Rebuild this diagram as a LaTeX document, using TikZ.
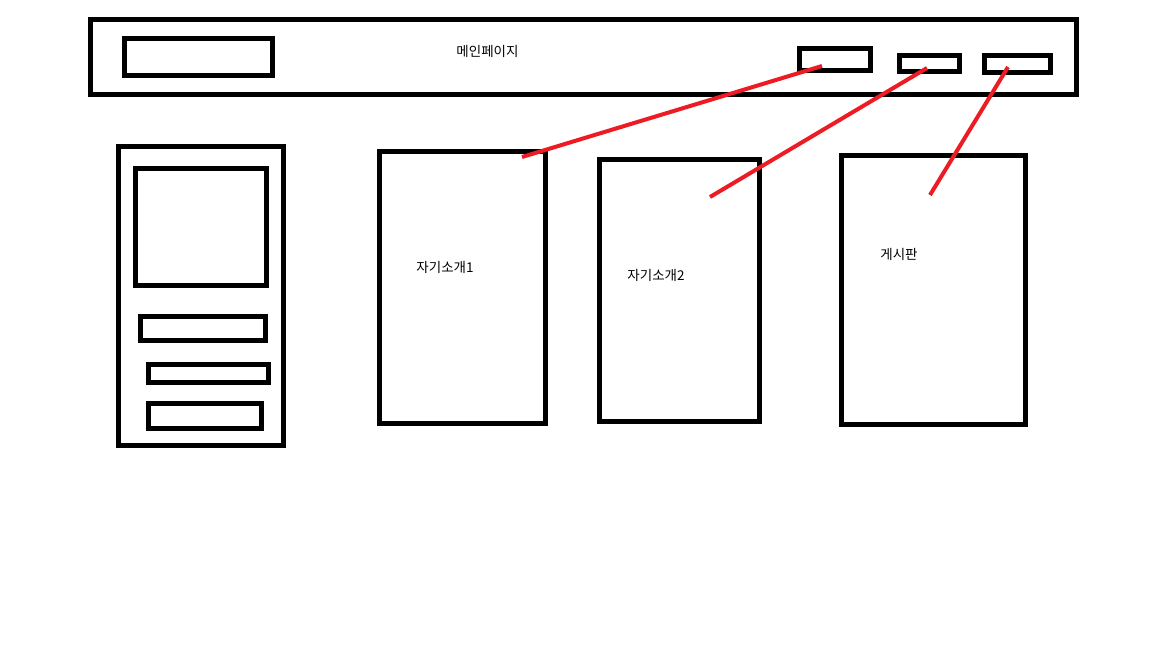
\documentclass[tikz,border=0pt]{standalone}
\usepackage{fontspec}
\newfontfamily\kr{Noto Sans CJK KR}
\definecolor{linkred}{RGB}{237,28,36}
\begin{document}
\begin{tikzpicture}[x=1pt,y=-1pt,
  box/.style={draw=black,line width=5pt,inner sep=0pt,outer sep=0pt,fill=none},
  lbl/.style={font=\kr\fontsize{13.5}{15}\selectfont,inner sep=0pt,text=black},
  link/.style={draw=linkred,line width=4pt}]
\useasboundingbox[fill=white] (0,0) rectangle (1152,648);
% top bar
\node[box,minimum width=986pt,minimum height=75pt] (bar) at (583.5,57) {};
\node[box,minimum width=148pt,minimum height=37pt] (logo) at (198.5,57) {};
\node[box,minimum width=71pt,minimum height=22pt] (btn1) at (835,59.5) {};
\node[box,minimum width=60pt,minimum height=16pt] (btn2) at (929.5,63.5) {};
\node[box,minimum width=66pt,minimum height=17pt] (btn3) at (1017.5,64) {};
\node[lbl] (title) at (487.5,51) {메인페이지};
% left panel
\node[box,minimum width=165pt,minimum height=299pt] (panel) at (201,296) {};
\node[box,minimum width=131pt,minimum height=117pt] (img) at (201,227) {};
\node[box,minimum width=125pt,minimum height=24pt] (r1) at (203,328.5) {};
\node[box,minimum width=120pt,minimum height=18pt] (r2) at (208.5,373.5) {};
\node[box,minimum width=113pt,minimum height=25pt] (r3) at (205,416) {};
% pages
\node[box,minimum width=166pt,minimum height=272pt] (p1) at (462.5,287.5) {};
\node[box,minimum width=160pt,minimum height=262pt] (p2) at (679.5,290.5) {};
\node[box,minimum width=184pt,minimum height=269pt] (p3) at (933.5,290) {};
\node[lbl] (t1) at (445,267) {자기소개1};
\node[lbl] (t2) at (656,275) {자기소개2};
\node[lbl] (t3) at (899,254) {게시판};
% link end points
\coordinate (a1) at (822,66);
\coordinate (b1) at (522,157);
\coordinate (a2) at (927,68);
\coordinate (b2) at (710,197);
\coordinate (a3) at (1008,67);
\coordinate (b3) at (930,195);
\draw[link] (a1) -- (b1);
\draw[link] (a2) -- (b2);
\draw[link] (a3) -- (b3);
\end{tikzpicture}
\end{document}
